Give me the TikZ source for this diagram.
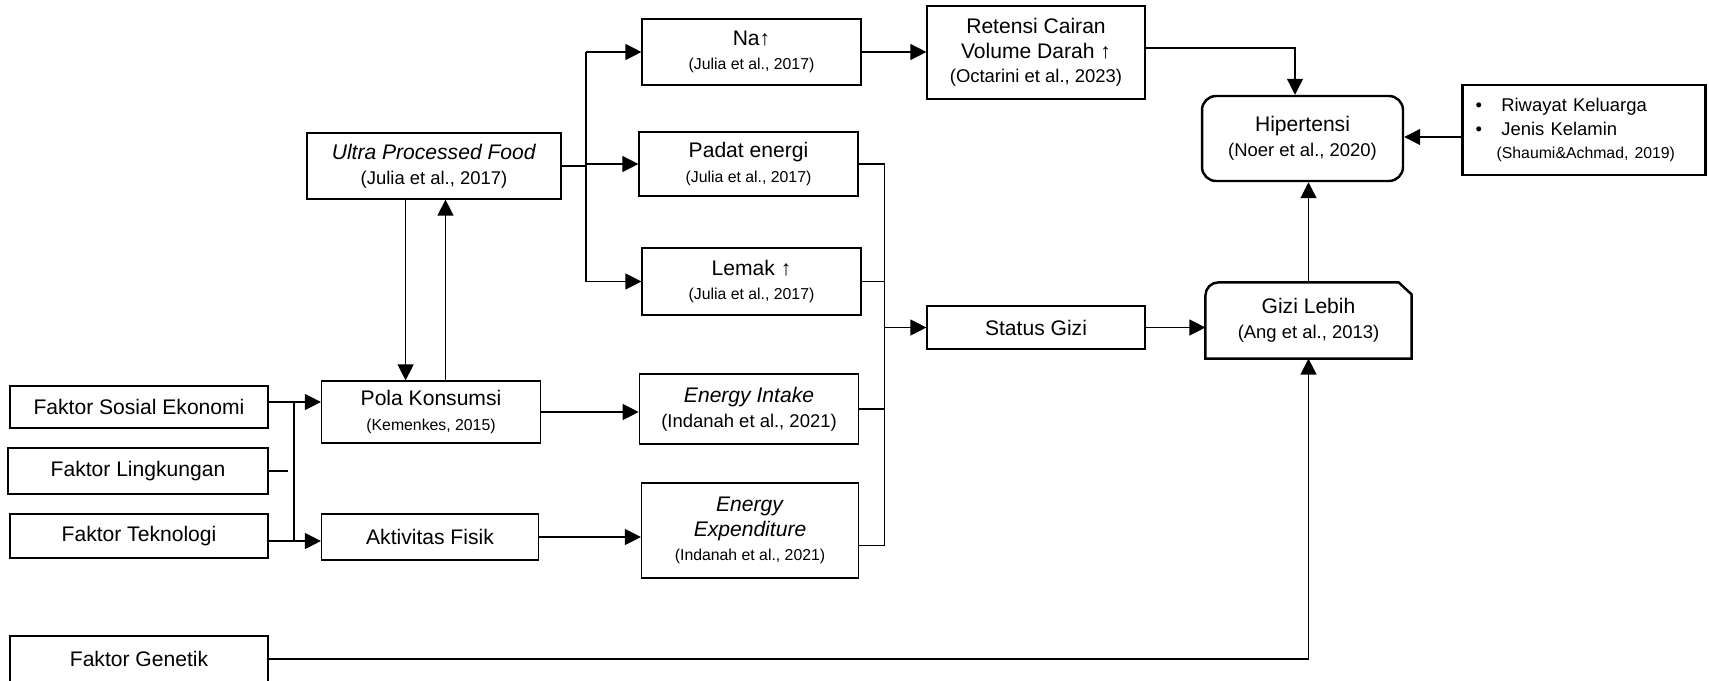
\documentclass[tikz,border=0pt]{standalone}
\usepackage{fontspec}
\setmainfont{Liberation Sans}
\usetikzlibrary{arrows.meta}
\newcommand{\citesmall}[1]{{\fontsize{9}{11}\selectfont #1}}
\newcommand{\citemid}[1]{{\fontsize{10.5}{12.5}\selectfont #1}}
\begin{document}
\begin{tikzpicture}[x=0.02cm,y=-0.02cm,line width=.7pt,
  box/.style={draw,align=center,inner sep=1pt,font=\fontsize{12}{14}\selectfont},
  bold/.style={box,line width=1.4pt},
  arr/.style={-{Triangle[length=.32cm,width=.32cm]}}]
\useasboundingbox (0,0) rectangle (1709,680);
\node[box,minimum width=5.08cm,minimum height=1.32cm] (upf) at (434,166) {\textit{Ultra Processed Food}\\\citemid{(Julia et al., 2017)}};
\node[box,minimum width=4.38cm,minimum height=1.32cm] (na) at (751.5,52) {Na↑\\\citesmall{(Julia et al., 2017)}};
\node[box,minimum width=4.38cm,minimum height=1.28cm] (padat) at (748.5,164) {Padat energi\\\citesmall{(Julia et al., 2017)}};
\node[box,minimum width=4.38cm,minimum height=1.34cm] (lemak) at (751.5,281.5) {Lemak ↑\\\citesmall{(Julia et al., 2017)}};
\node[box,minimum width=4.39cm,minimum height=1.40cm] (intake) at (749,409) {\textit{Energy Intake}\\\citemid{(Indanah et al., 2021)}};
\node[box,minimum width=4.34cm,minimum height=1.90cm] (expend) at (750,530.5) {\textit{Energy}\\\textit{Expenditure}\\\citesmall{(Indanah et al., 2021)}};
\node[box,minimum width=4.36cm,minimum height=1.86cm] (retensi) at (1036,52.5) {Retensi Cairan\\Volume Darah ↑\\\citemid{(Octarini et al., 2023)}};
\node[box,minimum width=4.36cm,minimum height=.86cm] (status) at (1036,327.5) {Status Gizi};
\node[bold,rounded corners=.28cm,minimum width=4.02cm,minimum height=1.70cm] (hiper) at (1302.5,138.5) {Hipertensi\\\citemid{(Noer et al., 2020)}};
\node[box,line width=1.6pt,align=left,inner xsep=.26cm,text width=4.34cm,minimum height=1.80cm,font=\fontsize{10.5}{13.5}\selectfont] (riwayat) at (1584,130)
  {\textbullet\hspace{11pt}Riwayat Keluarga\\\textbullet\hspace{11pt}Jenis Kelamin\\\hspace{12pt}\citesmall{(Shaumi\&Achmad, 2019)}};
\node[box,draw=none,minimum width=4.10cm,minimum height=1.50cm] (gizi) at (1308.5,320.5) {Gizi Lebih\\\citemid{(Ang et al., 2013)}};
\draw[line width=1.4pt] (gizi.south west) -- ([yshift=-.26cm]gizi.north west) arc[start angle=180,end angle=90,radius=.26cm]
  -- ([xshift=-.26cm]gizi.north east) -- ([yshift=-.24cm]gizi.north east) -- (gizi.south east) -- cycle;
\node[box,minimum width=5.16cm,minimum height=.84cm] (sosial) at (139,407) {Faktor Sosial Ekonomi};
\node[box,minimum width=5.20cm,minimum height=.92cm] (lingk) at (138,471) {Faktor Lingkungan};
\node[box,minimum width=5.16cm,minimum height=.88cm] (tekno) at (139,536) {Faktor Teknologi};
\node[box,minimum width=5.16cm,minimum height=.92cm] (genetik) at (139,659) {Faktor Genetik};
\node[box,minimum width=4.38cm,minimum height=1.24cm] (pola) at (431,412) {Pola Konsumsi\\\citesmall{(Kemenkes, 2015)}};
\node[box,minimum width=4.34cm,minimum height=.92cm] (aktiv) at (430,537) {Aktivitas Fisik};
\coordinate (ub) at (586,0); \coordinate (rb) at (884.5,0); \coordinate (lb) at (294,0);
\coordinate (dn) at (405.6,0); \coordinate (up) at (445.5,0);
\coordinate (s1) at ([yshift=.1cm]sosial.east); \coordinate (t1) at ([yshift=-.1cm]tekno.east);
\coordinate (ee) at ([yshift=-.3cm]expend.east); \coordinate (r1) at ([yshift=.09cm]retensi.east);
\coordinate (w1) at ([yshift=-.14cm]riwayat.west);
\draw (upf.east) -- (upf.east -| ub); \draw (ub |- na.west) -- (ub |- lemak.west);
\draw[arr] (ub |- na.west) -- (na.west);
\draw[arr] (ub |- padat.west) -- (padat.west);
\draw[arr] (ub |- lemak.west) -- (lemak.west);
\draw[arr] (na.east) -- (na.east -| retensi.west);
\draw[arr] (r1) -| ([xshift=-.15cm]hiper.north);
\draw[arr] (gizi.north) -- (gizi.north |- hiper.south);
\draw[arr] (w1) -- (w1 -| hiper.east);
\draw[arr] (status.east) -- (status.east -| gizi.west);
\draw (padat.east) -- (padat.east -| rb); \draw (lemak.east) -- (lemak.east -| rb);
\draw (intake.east) -- (intake.east -| rb); \draw (ee) -- (ee -| rb);
\draw (rb |- padat.east) -- (rb |- ee);
\draw[arr] (rb |- status.west) -- (status.west);
\draw[arr] (upf.south -| dn) -- (pola.north -| dn);
\draw[arr] (pola.north -| up) -- (upf.south -| up);
\draw[arr] (pola.east) -- (pola.east -| intake.west);
\draw[arr] (aktiv.east) -- (aktiv.east -| expend.west);
\draw[arr] (s1) -- (s1 -| pola.west);
\draw[arr] (t1) -- (t1 -| aktiv.west);
\draw[line width=1.1pt] (s1 -| lb) -- (t1 -| lb);
\draw (lingk.east) -- ++(19,0);
\draw[arr] (genetik.east) -| (gizi.south);
\end{tikzpicture}
\end{document}
